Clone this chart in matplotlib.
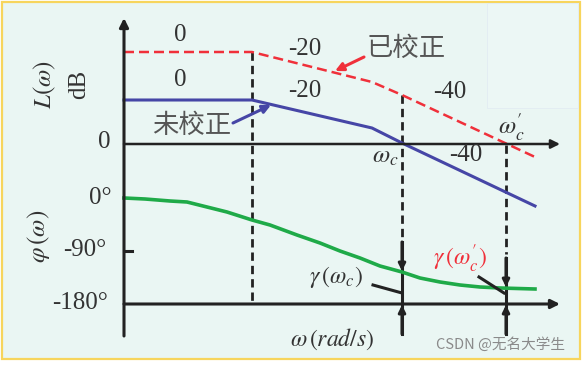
import matplotlib.pyplot as plt
from matplotlib.patches import Rectangle

# diagram units: x grows with omega, y is drawn top-down (like the source figure)
ORIGIN_X = 124
MAG_ZERO_Y = 144
PHASE_180_Y = 304
PHASE_90_Y = 251
AXIS_END_X = 560

corrected_x = [124, 252, 372, 402, 535]
corrected_y = [52, 52, 82, 95, 157]

uncorrected_x = [124, 252, 372, 402, 535]
uncorrected_y = [100, 100, 128, 143, 206]

phase_x = [124, 145, 170, 187, 207, 227, 252, 270, 297, 320, 340, 360, 380, 402, 420, 440, 460, 480, 500, 535]
phase_y = [198, 199, 201, 202, 207, 212, 220, 225, 235, 243, 251, 258, 266, 272, 278, 282, 285, 287, 288, 289]

# vertical guide lines: (x, top of dashed part, start of solid part, curve hit)
break_x = 252
wc_x, wc_top, wc_solid, wc_phase = 402, 95, 242, 271
wc2_x, wc2_top, wc2_solid, wc2_phase = 506, 145, 258, 287

slope_labels = ["0", "0", "-20", "-20", "-40", "-40"]
slope_pos = [(180, 35), (180, 80), (305, 49), (305, 91), (450, 92), (466, 155)]

phase_ticks = ["0°", "-90°", "-180°"]
phase_tick_pos = [(100, 198), (85, 250), (80, 303)]

BLACK = "#222222"
RED = "#f0303a"
BLUE = "#4646a6"
GREEN = "#1faa48"
TXT = "#333333"

plt.rcParams["mathtext.fontset"] = "stix"
serif = "Liberation Serif"
cjk = ["Noto Sans CJK SC", "DejaVu Sans"]

fig = plt.figure(figsize=(5.88, 3.65), dpi=100)
fig.patch.set_facecolor("white")
ax = fig.add_axes([0, 0, 1, 1])
ax.set_xlim(0, 588)
ax.set_ylim(365, 0)
ax.axis("off")

# background panel with yellow frame
ax.add_patch(Rectangle((2, 2), 578, 357, facecolor="#eaf6f3", edgecolor="#f7d55c", lw=1.6, zorder=0))
ax.add_patch(Rectangle((487, 3), 91, 105, facecolor="#ecf7f5", edgecolor="#e2ecf2", lw=0.6, zorder=0))

# axes
arrow_kw = dict(arrowstyle="-|>", color=BLACK, lw=2.2, mutation_scale=13, shrinkA=0, shrinkB=0)
ax.annotate("", xy=(ORIGIN_X, 18), xytext=(ORIGIN_X, 336), arrowprops=arrow_kw)
ax.annotate("", xy=(AXIS_END_X, MAG_ZERO_Y), xytext=(ORIGIN_X, MAG_ZERO_Y), arrowprops=dict(arrow_kw, lw=1.8))
ax.annotate("", xy=(AXIS_END_X, PHASE_180_Y), xytext=(ORIGIN_X, PHASE_180_Y), arrowprops=dict(arrow_kw, lw=2.2))
ax.plot([ORIGIN_X, ORIGIN_X + 8], [PHASE_90_Y, PHASE_90_Y], color=BLACK, lw=2.2)

# dashed guides
dash_kw = dict(color=BLACK, lw=2.0, dashes=(3, 1.8))
ax.plot([break_x, break_x], [corrected_y[1], PHASE_180_Y], **dash_kw)
ax.plot([wc_x, wc_x], [wc_top, wc_solid - 4], **dash_kw)
ax.plot([wc2_x, wc2_x], [wc2_top, wc2_solid - 4], **dash_kw)

# solid parts with arrows at phase curve and -180 line
for gx, gs, gp in [(wc_x, wc_solid, wc_phase), (wc2_x, wc2_solid, wc2_phase)]:
    ax.plot([gx, gx], [gs, 334], color=BLACK, lw=2.2)
    ax.annotate("", xy=(gx, gp), xytext=(gx, gs), arrowprops=dict(arrow_kw, lw=2.2, mutation_scale=10))
    ax.annotate("", xy=(gx, PHASE_180_Y + 1), xytext=(gx, 334), arrowprops=dict(arrow_kw, lw=2.2, mutation_scale=10))

# curves
ax.plot(corrected_x, corrected_y, color=RED, lw=1.8, dashes=(4, 2))
ax.plot(uncorrected_x, uncorrected_y, color=BLUE, lw=2.2)
ax.plot(phase_x, phase_y, color=GREEN, lw=2.6)

# slope labels
for s, (x, y) in zip(slope_labels, slope_pos):
    ax.text(x, y, s, fontsize=18, family=serif, color=TXT, ha="center", va="center")

# curve names with arrows
ax.text(406, 48, "已校正", fontsize=19, family=cjk, color="#555555", ha="center", va="center")
ax.annotate("", xy=(335, 71), xytext=(364, 57),
            arrowprops=dict(arrowstyle="-|>", color=RED, lw=2.2, mutation_scale=12, shrinkA=0, shrinkB=0))
ax.text(192, 125, "未校正", fontsize=19, family=cjk, color="#555555", ha="center", va="center")
ax.annotate("", xy=(271, 105), xytext=(233, 123),
            arrowprops=dict(arrowstyle="-|>", color=BLUE, lw=2.2, mutation_scale=12, shrinkA=0, shrinkB=0))

# crossover labels
ax.text(385, 156, r"$\omega_c$", fontsize=18, color=TXT, ha="center", va="center")
ax.text(511, 127, r"$\omega_c^{\prime}$", fontsize=18, color=TXT, ha="center", va="center")

# y labels
ax.text(45, 85, r"$L(\omega)$", fontsize=18, color=TXT, ha="center", va="center", rotation=90)
ax.text(79, 84, "dB", fontsize=18, family=serif, color=TXT, ha="center", va="center", rotation=90)
ax.text(104, 142, "0", fontsize=18, family=serif, color=TXT, ha="center", va="center")
ax.text(38, 236, r"$\varphi\,(\omega)$", fontsize=18, color=TXT, ha="center", va="center", rotation=90)
for s, (x, y) in zip(phase_ticks, phase_tick_pos):
    ax.text(x, y, s, fontsize=18, family=serif, color=TXT, ha="center", va="center")

ax.text(332, 339, r"$\omega\,(rad/s)$", fontsize=17, color=TXT, ha="center", va="center")

# phase margin labels
ax.text(336, 277, r"$\gamma\,(\omega_c)$", fontsize=17, color=TXT, ha="center", va="center")
ax.plot([373, 402], [285, 293], color=BLACK, lw=2.2)
ax.text(460, 259, r"$\gamma\,(\omega_c^{\prime})$", fontsize=17, color=RED, ha="center", va="center")
ax.plot([479, 504], [277, 293], color=BLACK, lw=2.2)

ax.text(500, 345, "CSDN @无名大学生", fontsize=10.5, family=cjk, color="#8a8a8a", ha="center", va="center")

fig.savefig("out.png", dpi=100)
